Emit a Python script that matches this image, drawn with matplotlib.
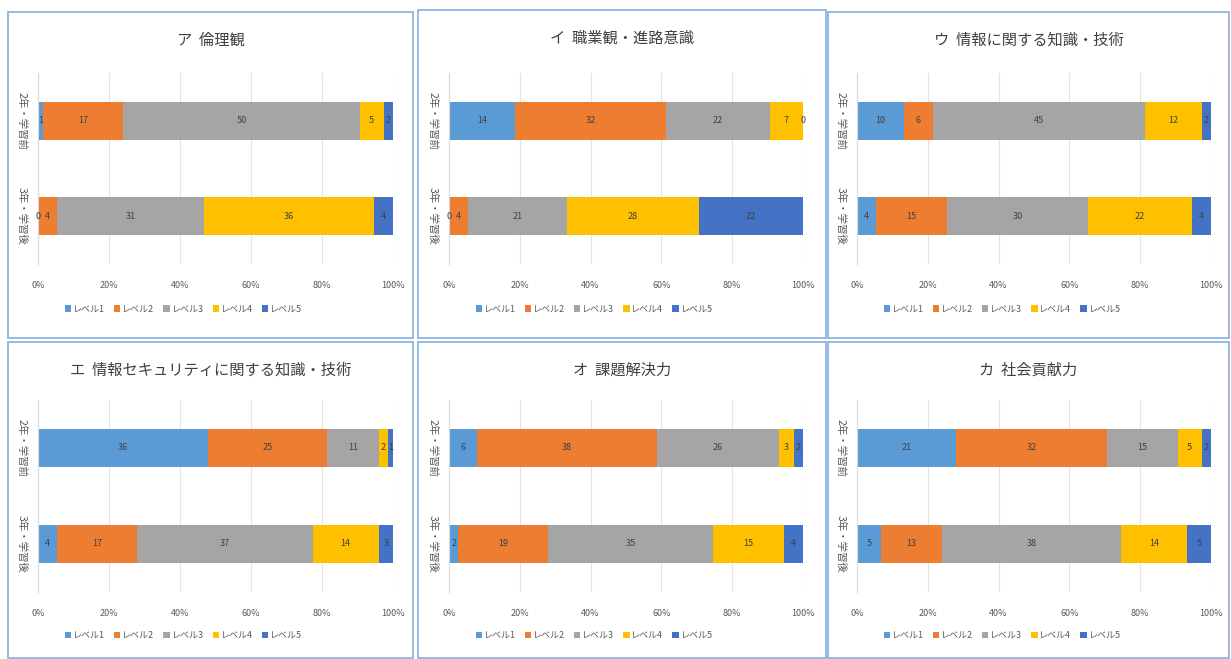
import numpy as np
import matplotlib.pyplot as plt
from matplotlib.patches import Rectangle

plt.rcParams['font.family'] = ['Noto Sans CJK JP', 'DejaVu Sans']

#%% data (counts, 100% stacked)
categories = ['2年・学習前', '3年・学習後']
levels = ['レベル1', 'レベル2', 'レベル3', 'レベル4', 'レベル5']
titles = ['ア  倫理観', 'イ  職業観・進路意識', 'ウ  情報に関する知識・技術',
          'エ  情報セキュリティに関する知識・技術', 'オ  課題解決力', 'カ  社会貢献力']
xticklabels = ['0%', '20%', '40%', '60%', '80%', '100%']

a_before = [1, 17, 50, 5, 2]
a_after = [0, 4, 31, 36, 4]
i_before = [14, 32, 22, 7, 0]
i_after = [0, 4, 21, 28, 22]
u_before = [10, 6, 45, 12, 2]
u_after = [4, 15, 30, 22, 4]
e_before = [36, 25, 11, 2, 1]
e_after = [4, 17, 37, 14, 3]
o_before = [6, 38, 26, 3, 2]
o_after = [2, 19, 35, 15, 4]
k_before = [21, 32, 15, 5, 2]
k_after = [5, 13, 38, 14, 5]

before = [a_before, i_before, u_before, e_before, o_before, k_before]
after = [a_after, i_after, u_after, e_after, o_after, k_after]

colors = ['#5B9BD5', '#ED7D31', '#A5A5A5', '#FFC000', '#4472C4']

W, H = 1231, 659
fig = plt.figure(figsize=(W / 100, H / 100), dpi=100)

def px(x0, y0, x1, y1):
    # pixel box (top-left origin) -> figure fraction rect
    return [x0 / W, 1 - y1 / H, (x1 - x0) / W, (y1 - y0) / H]

# panel frames [x0, y0, x1, y1]
frames = [(8, 12, 413, 338), (418, 10, 826, 338), (828, 12, 1229, 338),
          (8, 342, 413, 658), (418, 342, 826, 658), (828, 342, 1229, 658)]
plot_x = [(38, 393), (449, 803), (857, 1211)]
plot_y = [(73, 264), (400, 592)]

for k in range(6):
    row, col = k // 3, k % 3
    fx0, fy0, fx1, fy1 = frames[k]
    fig.patches.append(Rectangle((fx0 / W, 1 - fy1 / H), (fx1 - fx0) / W, (fy1 - fy0) / H,
                                 transform=fig.transFigure, fill=False,
                                 edgecolor='#8DB4E2', lw=1.3))
    fig.text((fx0 + fx1) / 2 / W, 1 - (fy0 + 28) / H, titles[k], ha='center', va='center',
             fontsize=11, color='#404040')

    ax = fig.add_axes(px(plot_x[col][0], plot_y[row][0], plot_x[col][1], plot_y[row][1]))
    data = np.array([after[k], before[k]], dtype=float)   # y=0 after, y=1 before
    pct = data / data.sum(axis=1, keepdims=True) * 100
    left = np.zeros(2)
    handles = []
    for j in range(5):
        b = ax.barh([0, 1], pct[:, j], left=left, height=0.4, color=colors[j], label=levels[j])
        handles.append(b)
        for r in range(2):
            ax.text(left[r] + pct[r, j] / 2, r, '%d' % data[r, j], ha='center', va='center',
                    fontsize=6.5, color='#404040')
        left += pct[:, j]

    ax.set_xlim(0, 100)
    ax.set_ylim(-0.5, 1.5)
    ax.set_xticks(np.arange(0, 101, 20))
    ax.set_xticklabels(xticklabels, fontsize=6.5, color='#595959')
    ax.set_yticks([1, 0])
    ax.set_yticklabels(categories, rotation=-90, va='center', fontsize=7.5, color='#595959')
    ax.tick_params(length=0, axis='x', pad=12)
    ax.tick_params(length=0, axis='y', pad=8)
    ax.grid(axis='x', color='#E3E3E3', lw=0.8)
    ax.set_axisbelow(True)
    for s in ['top', 'right', 'bottom']:
        ax.spines[s].set_visible(False)
    ax.spines['left'].set_color('#D9D9D9')

    ax.legend(handles=handles, loc='upper center', bbox_to_anchor=(0.41, -0.17 if row == 0 else -0.16),
              ncol=5, frameon=False, fontsize=6.5, handlelength=0.7, handleheight=0.7,
              columnspacing=1.0, handletextpad=0.2, labelcolor='#595959')

fig.savefig('out.png', dpi=100)
